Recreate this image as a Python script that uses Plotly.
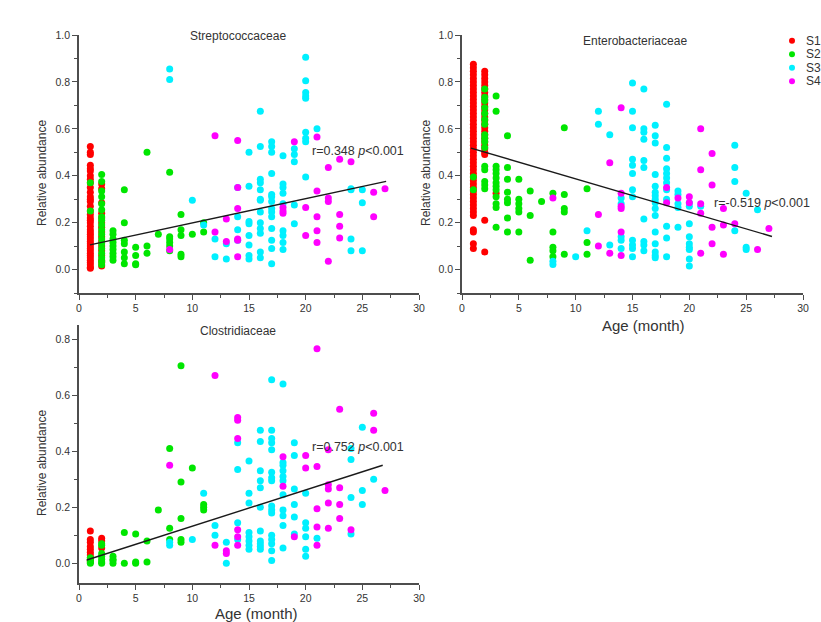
import plotly.graph_objects as go

# ---------------- data: relative abundance by age (month) ----------------
# Each dict maps age in months -> list of relative abundance values.

# Streptococcaceae
strep_s1 = {
    1: [0.525, 0.50, 0.49, 0.445, 0.43, 0.42, 0.40, 0.385, 0.37, 0.35, 0.33, 0.31,
        0.30, 0.29, 0.27, 0.25, 0.235, 0.22, 0.21, 0.20, 0.185, 0.17, 0.16, 0.15,
        0.14, 0.13, 0.12, 0.11, 0.10, 0.09, 0.08, 0.07, 0.06, 0.05, 0.04, 0.03,
        0.02, 0.01, 0.005],
    2: [0.365, 0.345, 0.285, 0.24, 0.22, 0.20, 0.18, 0.16, 0.14, 0.12, 0.10, 0.08,
        0.06, 0.04, 0.03, 0.015],
}
strep_s2 = {
    1: [0.37, 0.25],
    2: [0.405, 0.375, 0.335, 0.31, 0.28, 0.255, 0.225, 0.21, 0.19, 0.17, 0.15,
        0.13, 0.11, 0.09, 0.07, 0.05, 0.035, 0.02],
    3: [0.165, 0.15, 0.13, 0.115, 0.10, 0.085, 0.07, 0.055, 0.04],
    4: [0.34, 0.20, 0.125, 0.11, 0.075, 0.05, 0.025],
    5: [0.095, 0.06, 0.025, 0.02],
    6: [0.50, 0.10, 0.07],
    7: [0.15],
    8: [0.415, 0.14, 0.13, 0.115, 0.10, 0.08],
    9: [0.235, 0.17, 0.145, 0.065, 0.055],
    10: [0.15],
    11: [0.20, 0.16],
}
strep_s3 = {
    8: [0.855, 0.81],
    10: [0.295],
    11: [0.19],
    12: [0.13, 0.055],
    13: [0.11, 0.045],
    14: [0.35, 0.225, 0.17, 0.125],
    15: [0.50, 0.355, 0.205, 0.195, 0.145, 0.105, 0.06, 0.045],
    16: [0.675, 0.525, 0.385, 0.37, 0.34, 0.30, 0.295, 0.245, 0.20, 0.175, 0.155,
         0.075, 0.05],
    17: [0.545, 0.525, 0.50, 0.41, 0.32, 0.31, 0.29, 0.26, 0.245, 0.225, 0.175,
         0.125, 0.09, 0.025],
    18: [0.485, 0.365, 0.35, 0.325, 0.28, 0.165, 0.145, 0.115, 0.085],
    19: [0.515, 0.49, 0.46, 0.275, 0.195],
    20: [0.905, 0.805, 0.755, 0.74, 0.73, 0.585, 0.56, 0.545, 0.395],
    21: [0.60],
    24: [0.345, 0.34, 0.13, 0.08],
    25: [0.34, 0.285, 0.08],
}
strep_s4 = {
    8: [0.085],
    12: [0.57, 0.16],
    13: [0.215, 0.12],
    14: [0.55, 0.35, 0.26, 0.13, 0.125, 0.055],
    18: [0.265, 0.25, 0.24],
    19: [0.545],
    20: [0.265, 0.145],
    21: [0.565, 0.335, 0.225, 0.165, 0.115],
    22: [0.435, 0.305, 0.29, 0.035],
    23: [0.47, 0.235, 0.185, 0.135],
    24: [0.46],
    26: [0.33, 0.225],
    27: [0.345],
}
strep_fit_x = [0.97, 27.1]
strep_fit_y = [0.105, 0.376]

# Enterobacteriaceae
entero_s1 = {
    1: [0.875, 0.86, 0.845, 0.83, 0.815, 0.80, 0.785, 0.77, 0.755, 0.74, 0.725,
        0.71, 0.695, 0.68, 0.665, 0.65, 0.635, 0.62, 0.605, 0.59, 0.575, 0.56,
        0.545, 0.53, 0.515, 0.50, 0.485, 0.47, 0.455, 0.44, 0.425, 0.41, 0.395,
        0.38, 0.365, 0.35, 0.335, 0.32, 0.305, 0.29, 0.275, 0.26, 0.245, 0.23,
        0.17, 0.16, 0.11, 0.09],
    2: [0.845, 0.83, 0.815, 0.80, 0.785, 0.77, 0.755, 0.74, 0.725, 0.71, 0.695,
        0.68, 0.665, 0.65, 0.635, 0.62, 0.605, 0.59, 0.575, 0.56, 0.545, 0.53,
        0.515, 0.50, 0.49, 0.21, 0.075],
    3: [0.325],
}
entero_s2 = {
    1: [0.395, 0.34],
    2: [0.77, 0.735, 0.72, 0.69, 0.665, 0.64, 0.62, 0.575, 0.56, 0.545, 0.52,
        0.44, 0.425, 0.375, 0.36, 0.345],
    3: [0.74, 0.675, 0.44, 0.425, 0.41, 0.39, 0.37, 0.355, 0.34, 0.31, 0.28,
        0.265, 0.18],
    4: [0.57, 0.435, 0.385, 0.33, 0.30, 0.285, 0.22, 0.16],
    5: [0.385, 0.30, 0.28, 0.26, 0.245, 0.16],
    6: [0.335, 0.23, 0.04],
    7: [0.29],
    8: [0.325, 0.16, 0.095, 0.08, 0.055],
    9: [0.605, 0.32, 0.26, 0.245, 0.065],
    11: [0.345, 0.115, 0.065],
}
entero_s3 = {
    8: [0.035, 0.022],
    10: [0.055],
    11: [0.165],
    12: [0.675, 0.62],
    13: [0.575, 0.105],
    14: [0.305, 0.28, 0.14, 0.125, 0.09],
    15: [0.795, 0.675, 0.605, 0.47, 0.445, 0.41, 0.34, 0.31, 0.125, 0.105, 0.09,
         0.055],
    16: [0.77, 0.60, 0.585, 0.555, 0.465, 0.435, 0.215, 0.12, 0.105, 0.08],
    17: [0.615, 0.57, 0.54, 0.405, 0.355, 0.33, 0.315, 0.30, 0.285, 0.26, 0.23,
         0.16, 0.11, 0.075, 0.06, 0.05],
    18: [0.705, 0.52, 0.475, 0.43, 0.41, 0.39, 0.37, 0.34, 0.30, 0.185, 0.135,
         0.055],
    19: [0.335, 0.32, 0.28, 0.265, 0.18],
    20: [0.285, 0.27, 0.195, 0.14, 0.11, 0.095, 0.085, 0.045, 0.015],
    21: [0.27],
    24: [0.53, 0.435, 0.375, 0.165],
    25: [0.325, 0.095, 0.085],
    26: [0.255],
}
entero_s4 = {
    8: [0.305],
    12: [0.235, 0.10],
    13: [0.455, 0.07],
    14: [0.69, 0.325, 0.27, 0.26, 0.16, 0.06],
    18: [0.35, 0.285],
    19: [0.305],
    20: [0.31, 0.285],
    21: [0.60, 0.425, 0.28, 0.24, 0.07],
    22: [0.495, 0.36, 0.18, 0.11],
    23: [0.26, 0.19, 0.065],
    24: [0.195],
    26: [0.085],
    27: [0.175],
}
entero_fit_x = [0.79, 27.27]
entero_fit_y = [0.518, 0.141]

# Clostridiaceae
clos_s1 = {
    1: [0.115, 0.085, 0.075, 0.06, 0.05, 0.04, 0.03, 0.02, 0.01, 0.005],
    2: [0.09, 0.08, 0.055],
}
clos_s2 = {
    1: [0.02, 0.01, 0.005, 0.0],
    2: [0.07, 0.065, 0.035, 0.025, 0.015, 0.005, 0.0],
    3: [0.025, 0.015, 0.01, 0.0],
    4: [0.11, 0.0],
    5: [0.105, 0.005, 0.0],
    6: [0.08, 0.005],
    7: [0.19],
    8: [0.41, 0.125, 0.085],
    9: [0.705, 0.29, 0.16, 0.085, 0.075],
    10: [0.34],
    11: [0.21, 0.20, 0.19],
}
clos_s3 = {
    8: [0.075, 0.065],
    10: [0.085],
    11: [0.25],
    12: [0.135, 0.10],
    13: [0.075, 0.0],
    14: [0.43, 0.335, 0.145, 0.085],
    15: [0.365, 0.25, 0.215, 0.11, 0.095, 0.08, 0.065, 0.05],
    16: [0.475, 0.435, 0.33, 0.295, 0.27, 0.20, 0.115, 0.08, 0.07, 0.06, 0.05],
    17: [0.655, 0.475, 0.445, 0.43, 0.405, 0.325, 0.305, 0.295, 0.205, 0.19,
         0.18, 0.10, 0.085, 0.07, 0.045, 0.01],
    18: [0.64, 0.36, 0.35, 0.33, 0.31, 0.295, 0.245, 0.19, 0.17, 0.135, 0.055],
    19: [0.43, 0.385, 0.265, 0.21, 0.165, 0.105],
    20: [0.25, 0.145, 0.125, 0.095, 0.05, 0.025],
    21: [0.09],
    24: [0.41, 0.37, 0.235, 0.105],
    25: [0.485, 0.26, 0.21],
    26: [0.30],
}
clos_s4 = {
    8: [0.35],
    12: [0.67, 0.065],
    13: [0.045, 0.035],
    14: [0.52, 0.51, 0.445, 0.12, 0.095, 0.065],
    18: [0.38, 0.275],
    19: [0.095],
    20: [0.385, 0.34],
    21: [0.765, 0.345, 0.195, 0.13, 0.065],
    22: [0.405, 0.28, 0.265, 0.215, 0.125],
    23: [0.55, 0.27, 0.21, 0.16],
    24: [0.12],
    26: [0.535, 0.475],
    27: [0.26],
}
clos_fit_x = [0.68, 26.8]
clos_fit_y = [0.012, 0.35]

series_names = ["S1", "S2", "S3", "S4"]
series_colors = ["#ff0000", "#00e600", "#00f0ff", "#ff00ff"]

# ---------------- figure ----------------
W, H = 821, 622
TXT = "#333333"
AX = "#4d4d4d"
FONT = "Liberation Sans, Arial"


def px_x(p):
    return p / W


def px_y(p):
    return 1 - p / H


def flatten(groups):
    xs, ys = [], []
    for month, vals in groups.items():
        for v in vals:
            xs.append(month)
            ys.append(v)
    return xs, ys


panels = [
    ("x", "y", [strep_s1, strep_s2, strep_s3, strep_s4], strep_fit_x, strep_fit_y),
    ("x2", "y2", [entero_s1, entero_s2, entero_s3, entero_s4], entero_fit_x, entero_fit_y),
    ("x3", "y3", [clos_s1, clos_s2, clos_s3, clos_s4], clos_fit_x, clos_fit_y),
]

fig = go.Figure()
for xa, ya, groups, fx, fy in panels:
    for si, g in enumerate(groups):
        xs, ys = flatten(g)
        fig.add_trace(go.Scatter(
            x=xs, y=ys, mode="markers", xaxis=xa, yaxis=ya,
            name=series_names[si], showlegend=False,
            marker=dict(size=7, color=series_colors[si], line=dict(width=0)),
        ))
    fig.add_trace(go.Scatter(
        x=fx, y=fy, mode="lines", xaxis=xa, yaxis=ya, showlegend=False,
        line=dict(color="#1a1a1a", width=1.4),
    ))

# compact key (S1..S4) on its own hidden axes, one row per series
fig.add_trace(go.Scatter(
    x=[0] * len(series_names), y=list(range(len(series_names))),
    mode="markers", xaxis="x4", yaxis="y4", showlegend=False, hoverinfo="skip",
    marker=dict(size=6, color=series_colors, line=dict(width=0)),
))

axis_common = dict(
    showline=True, linecolor=AX, linewidth=1.5, mirror=False,
    showgrid=False, zeroline=False, ticks="outside", ticklen=5, tickwidth=1.2,
    tickcolor=AX, tickfont=dict(family=FONT, size=10.5, color=TXT),
)

xdom_left = [px_x(79), px_x(419)]
xdom_right = [px_x(462), px_x(803)]
ydom_top = [px_y(293), px_y(35)]
ydom_bottom = [px_y(583), px_y(325)]

xcommon = dict(axis_common, range=[0, 30], dtick=5, tick0=0,
               minor=dict(dtick=2.5, ticks="outside", ticklen=3, tickcolor=AX, tickwidth=1))
ycommon = dict(axis_common, dtick=0.2, tick0=0, tickformat=".1f",
               minor=dict(dtick=0.1, ticks="outside", ticklen=3, tickcolor=AX, tickwidth=1))
hidden = dict(visible=False, showgrid=False, zeroline=False, fixedrange=True)

fig.update_layout(
    width=W, height=H, margin=dict(l=0, r=0, t=0, b=0, autoexpand=False),
    paper_bgcolor="white", plot_bgcolor="rgba(0,0,0,0)",
    font=dict(family=FONT, color=TXT),
    showlegend=False,
    xaxis=dict(xcommon, domain=xdom_left, anchor="y"),
    yaxis=dict(ycommon, domain=ydom_top, anchor="x", range=[-0.1, 1.0]),
    xaxis2=dict(xcommon, domain=xdom_right, anchor="y2"),
    yaxis2=dict(ycommon, domain=ydom_top, anchor="x2", range=[-0.1, 1.0]),
    xaxis3=dict(xcommon, domain=xdom_left, anchor="y3"),
    yaxis3=dict(ycommon, domain=ydom_bottom, anchor="x3", range=[-0.07, 0.85]),
    xaxis4=dict(hidden, domain=[px_x(786), px_x(816)], anchor="y4", range=[-0.2, 0.8]),
    yaxis4=dict(hidden, domain=[px_y(88), px_y(34)], anchor="x4", range=[3.5, -0.5]),
)

annotations = []
# key labels
for i, name in enumerate(series_names):
    annotations.append(dict(text=name, x=0.4, y=i, xref="x4", yref="y4", xanchor="left",
                            yanchor="middle", showarrow=False,
                            font=dict(size=12, color=TXT)))
# panel titles
for text, cx, cy in [("Streptococcaceae", 238, 36), ("Enterobacteriaceae", 635, 41),
                     ("Clostridiaceae", 238, 331)]:
    annotations.append(dict(text=text, x=px_x(cx), y=px_y(cy), xref="paper", yref="paper",
                            xanchor="center", yanchor="middle", showarrow=False,
                            font=dict(size=12, color=TXT)))
# y-axis titles
for cx, cy in [(42, 173), (426, 173), (42, 463)]:
    annotations.append(dict(text="Relative abundance", x=px_x(cx), y=px_y(cy), xref="paper",
                            yref="paper", xanchor="center", yanchor="middle",
                            textangle=-90, showarrow=False, font=dict(size=12, color=TXT)))
# x-axis titles
for cx, cy in [(643, 325), (256, 613)]:
    annotations.append(dict(text="Age (month)", x=px_x(cx), y=px_y(cy), xref="paper",
                            yref="paper", xanchor="center", yanchor="middle",
                            showarrow=False, font=dict(size=15, color=TXT)))
# correlation statistics
for text, xr, yr, tx, ty in [("r=0.348 <i>p</i>&lt;0.001", "x", "y", 20.4, 0.506),
                             ("r=-0.519 <i>p</i>&lt;0.001", "x2", "y2", 22.0, 0.285),
                             ("r=0.752 <i>p</i>&lt;0.001", "x3", "y3", 20.4, 0.415)]:
    annotations.append(dict(text=text, x=tx, y=ty, xref=xr, yref=yr, xanchor="left",
                            yanchor="middle", showarrow=False,
                            font=dict(size=12.5, color=TXT)))
fig.update_layout(annotations=annotations)

fig.write_html("out.html")
